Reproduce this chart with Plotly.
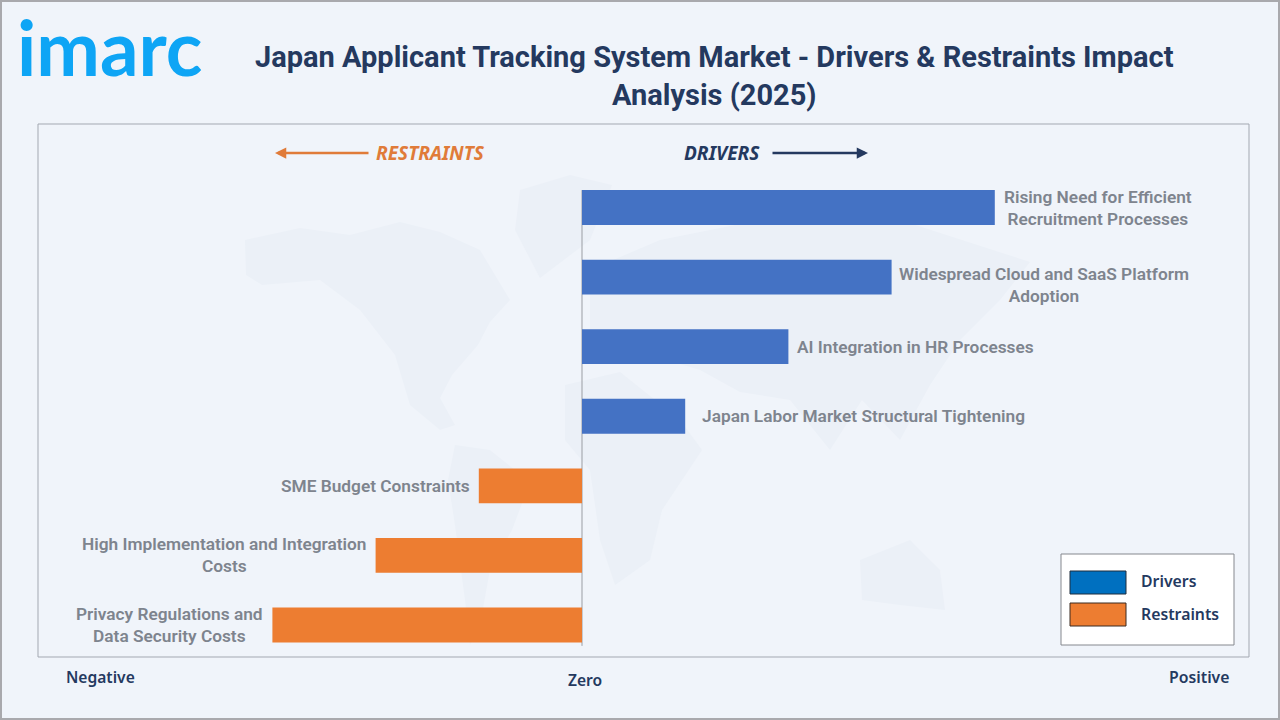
import plotly.graph_objects as go

W, H = 1280, 720
categories = ["Rising Need for Efficient<br>Recruitment Processes",
              "Widespread Cloud and SaaS Platform<br>Adoption",
              "AI Integration in HR Processes",
              "Japan Labor Market Structural Tightening",
              "SME Budget Constraints",
              "High Implementation and Integration<br>Costs",
              "Privacy Regulations and<br>Data Security Costs"]
driver_values = [4, 3, 2, 1, None, None, None]
restraint_values = [None, None, None, None, -1, -2, -3]
TITLE = "Japan Applicant Tracking System Market - Drivers & Restraints Impact<br>Analysis (2025)"

BG = "#f0f4fa"; NAVY = "#24395f"; GREY = "#7e848e"; ORANGE = "#ed7d31"; BLUE = "#4472c4"
FONT = "Noto Sans"; LABEL_FONT = "Roboto"
L, R, T, B = 38, 1249, 124, 657

def px(x): return (x - L) / (R - L)
def py(y): return (B - y) / (B - T)

continents = [
    [(245,240),(300,228),(350,235),(400,222),(440,232),(480,250),(510,300),(490,322),(478,345),(452,375),(440,398),(455,425),(440,430),(410,405),(395,355),(360,310),(320,280),(262,285),(246,275)],
    [(455,445),(490,450),(530,482),(512,530),(490,570),(480,625),(470,645),(465,600),(455,525),(448,480)],
    [(520,190),(570,175),(612,185),(590,240),(540,278),(515,230)],
    [(565,385),(620,372),(680,420),(702,450),(662,510),(650,560),(615,585),(600,540),(590,470),(565,440)],
    [(590,270),(660,240),(760,220),(900,220),(1030,262),(1000,300),(960,340),(930,385),(900,440),(862,400),(830,450),(790,400),(740,392),(700,370),(640,352),(590,340)],
    [(860,560),(910,540),(940,570),(945,610),(900,605),(862,600)],
]
shapes = []
for poly in continents:
    path = "M" + " L".join(f"{px(x):.4f},{py(y):.4f}" for x, y in poly) + " Z"
    shapes.append(dict(type="path", path=path, xref="paper", yref="paper",
                       fillcolor="#ebf0f7", line=dict(width=0), layer="below"))

def rect(x0, y0, x1, y1, fill, line, width=1, layer="above"):
    return dict(type="rect", xref="paper", yref="paper", x0=px(x0), x1=px(x1), y0=py(y0), y1=py(y1),
                fillcolor=fill, line=dict(color=line, width=width), layer=layer)

shapes += [
    rect(1, 1, 1279, 719, "rgba(0,0,0,0)", "#a9a9ad", 2, "below"),
    rect(L, T, R, B, "rgba(0,0,0,0)", "#a3a8b1", 1, "below"),
    rect(1061, 554, 1234, 645, "#ffffff", "#85888e", 1),
    rect(1070, 571, 1126, 594, "#0070c0", "#1f2d3d", 1),
    rect(1070, 603, 1126, 626, ORANGE, "#3a2a20", 1),
    dict(type="line", xref="x", yref="y", x0=0, x1=0, y0=-0.25, y1=6.3,
         line=dict(color="#9a9da3", width=1), layer="below"),
]

fig = go.Figure()
fig.add_bar(y=categories, x=driver_values, orientation="h", marker=dict(color=BLUE, line=dict(width=0)),
            name="Drivers", showlegend=False, hoverinfo="skip")
fig.add_bar(y=categories, x=restraint_values, orientation="h", marker=dict(color=ORANGE, line=dict(width=0)),
            name="Restraints", showlegend=False, hoverinfo="skip")

ann = []
for i, c in enumerate(categories):
    v = driver_values[i] if driver_values[i] is not None else restraint_values[i]
    xs = 7 if v > 0 else -7
    ys = 0
    if c.startswith("Japan"):
        xs = 15
    if c.startswith("Widespread"):
        xs, ys = 5, -8
    ann.append(dict(x=v, y=c, xref="x", yref="y", text=c, showarrow=False, align="center",
                    xanchor="left" if v > 0 else "right", xshift=xs, yshift=ys,
                    font=dict(family=LABEL_FONT, size=17.3, color=GREY, weight=600)))

def ptext(x, y, text, size, color, weight=700, xanchor="center", style="normal", family=FONT):
    return dict(x=px(x), y=py(y), xref="paper", yref="paper", text=text, showarrow=False,
                xanchor=xanchor, yanchor="middle", align="center",
                font=dict(family=family, size=size, color=color, weight=weight, style=style))

ann += [
    ptext(715, 76, TITLE, 29, NAVY, family=LABEL_FONT),
    ptext(109, 47, "imarc", 76, "#0ea5f5", 700, family="Lato"),
    ptext(431, 153, "RESTRAINTS", 19, "#e07b39", 700, style="italic"),
    ptext(722, 153, "DRIVERS", 19, NAVY, 700, style="italic"),
    ptext(100, 677, "Negative", 15.6, NAVY, 600),
    ptext(585, 680, "Zero", 15.6, NAVY, 600),
    ptext(1199, 677, "Positive", 15.8, NAVY, 600),
    ptext(1139, 581, "Drivers", 15.8, NAVY, 600, xanchor="left"),
    ptext(1139, 614, "Restraints", 15.8, NAVY, 600, xanchor="left"),
    dict(x=px(275), y=py(153), ax=95, ay=0, xref="paper", yref="paper", axref="pixel", ayref="pixel",
         text="", showarrow=True, arrowhead=2, arrowsize=0.9, arrowwidth=2.5, arrowcolor="#e07b39"),
    dict(x=px(868), y=py(153), ax=-97, ay=0, xref="paper", yref="paper", axref="pixel", ayref="pixel",
         text="", showarrow=True, arrowhead=2, arrowsize=0.9, arrowwidth=2.5, arrowcolor=NAVY),
]

zero = 582; unit = 103.2
fig.update_layout(
    width=W, height=H, margin=dict(l=L, r=W - R, t=T, b=H - B, autoexpand=False),
    paper_bgcolor=BG, plot_bgcolor="rgba(0,0,0,0)", barmode="overlay", bargap=0.5,
    shapes=shapes, annotations=ann, showlegend=False,
    xaxis=dict(range=[(L - zero) / unit, (R - zero) / unit], visible=False, fixedrange=True),
    yaxis=dict(type="category", categoryorder="array", categoryarray=categories,
               range=[6.46, -1.2], visible=False, fixedrange=True),
)
fig.write_html("out.html", config={"displayModeBar": False},
               post_script="document.body.style.margin='0';")
